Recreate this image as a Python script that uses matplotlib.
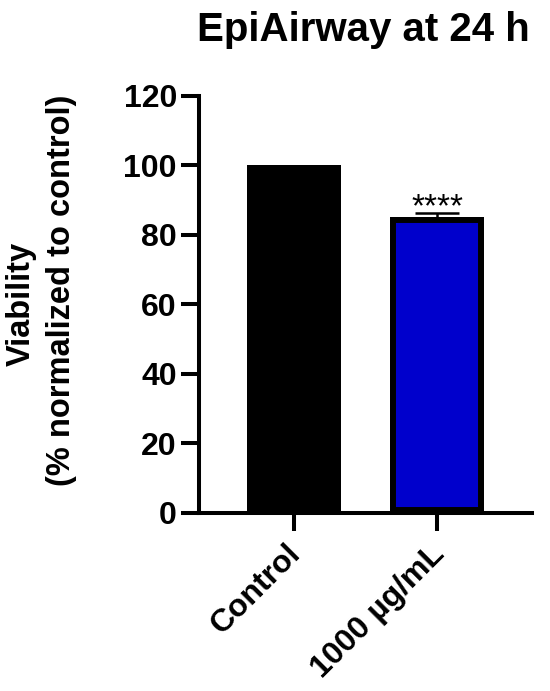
import matplotlib
matplotlib.use("Agg")
import matplotlib.pyplot as plt
import matplotlib.transforms as mtransforms

categories = ["Control", "1000 µg/mL"]
values = [100.0, 85.2]
errors = [0.0, 1.2]
colors = ["#000000", "#0000CC"]
yticks = [0, 20, 40, 60, 80, 100, 120]
title = "EpiAirway at 24 h"
significance = "****"

plt.rcParams['font.family'] = ['Liberation Sans', 'DejaVu Sans']

fig = plt.figure(figsize=(5.5, 6.91), dpi=100)
ax = fig.add_axes([0.362, 0.2576, 0.605, 0.6035])

x = list(range(len(categories)))
bars = ax.bar(x, values, width=0.657, color=colors, edgecolor="black", linewidth=8.6, zorder=2)
for b in bars:
    b.set_clip_path(b)
ax.errorbar(x[1:], values[1:], yerr=errors[1:], fmt="none", ecolor="black",
            elinewidth=1.8, capsize=16, capthick=1.8, zorder=1)

ax.set_xlim(-0.66, 1.66)
ax.set_ylim(0, 120)
ax.set_yticks(yticks)
ax.set_yticklabels([str(t) for t in yticks], fontsize=23, fontweight="bold")
ax.set_xticks(x)
ax.set_xticklabels([])
offset = mtransforms.ScaledTranslation(-8 / 100, -26 / 100, fig.dpi_scale_trans)
for xi, cat in zip(x, categories):
    ax.text(xi, 0, cat, transform=ax.get_xaxis_transform() + offset,
            rotation=45, ha="right", va="top", rotation_mode="anchor",
            fontsize=23, fontweight="bold")

for s in ["top", "right"]:
    ax.spines[s].set_visible(False)
for s in ["left", "bottom"]:
    ax.spines[s].set_linewidth(2.9)
ax.tick_params(axis="both", width=2.9, length=13, pad=3)

ax.text(x[1], values[1] + errors[1] - 1.0, significance, ha="center", va="baseline",
        fontsize=24)

fig.text(0.66, 0.956, title, ha="center", va="center", fontsize=29, fontweight="bold")
fig.text(0.038, 0.56, "Viability", rotation=90, ha="center", va="center",
         fontsize=23.5, fontweight="bold")
fig.text(0.112, 0.58, "(% normalized to control)", rotation=90, ha="center", va="center",
         fontsize=23.5, fontweight="bold")

fig.savefig("out.png", dpi=100)
